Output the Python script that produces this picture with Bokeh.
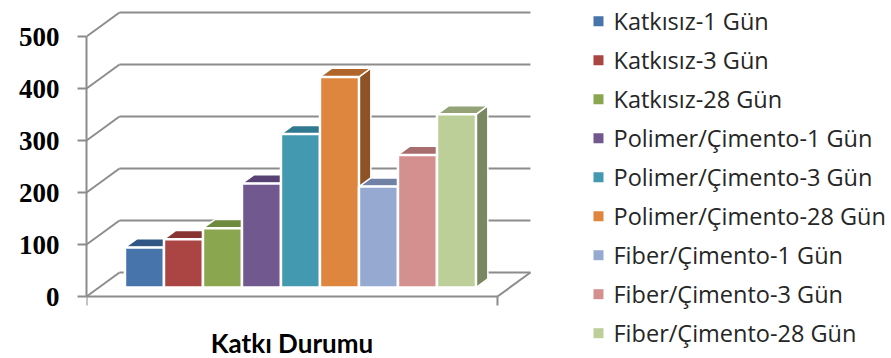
from bokeh.plotting import figure
from bokeh.models import Range1d, LinearAxis, FixedTicker, ColumnDataSource
from bokeh.core.properties import value
from bokeh.embed import file_html
from bokeh.resources import INLINE

# ---- data -------------------------------------------------------------
series = [
    "Katkısız-1 Gün", "Katkısız-3 Gün", "Katkısız-28 Gün",
    "Polimer/Çimento-1 Gün", "Polimer/Çimento-3 Gün", "Polimer/Çimento-28 Gün",
    "Fiber/Çimento-1 Gün", "Fiber/Çimento-3 Gün", "Fiber/Çimento-28 Gün",
]
values = [77, 93, 114, 200, 295, 405, 194, 255, 333]
category_title = "Katkı Durumu"
y_ticks = [0, 100, 200, 300, 400, 500]

front_colors = ["#4674ab", "#aa4543", "#8aa64f", "#71588f", "#4299b0",
                "#de863e", "#95a9d1", "#d48f8f", "#bccf99"]
top_colors = ["#2f5684", "#893533", "#6e8a3c", "#584274", "#2f7a8e",
              "#b0652a", "#6f81a4", "#a86e6e", "#93a377"]
side_colors = ["#284a73", "#752d2b", "#5e7633", "#4b3863", "#28697a",
               "#8e5227", "#5f6f8d", "#905e5e", "#7a8862"]

# ---- 3-D oblique projection ------------------------------------------
PX_PER_SLOT = 39.0
PX_PER_UNIT = 0.52
DEPTH_DX = 33.0 / PX_PER_SLOT      # full depth, in slot units
DEPTH_DY = 24.0 / PX_PER_UNIT      # full depth, in value units
X_LEFT, X_RIGHT = -1.169, 9.369    # floor extent (front plane)
Z_FRONT, Z_BACK = 0.375, 0.735     # depth of the column faces
GRID = "#8c8c8c"


def proj(x, y, z):
    return x + z * DEPTH_DX, y + z * DEPTH_DY


W, H = 891, 358
LEFT = 86
x0 = X_LEFT
y0 = -(H - 296) / PX_PER_UNIT
p = figure(width=W, height=H, output_backend="svg", toolbar_location=None,
           x_range=Range1d(x0, x0 + (W - LEFT) / PX_PER_SLOT),
           y_range=Range1d(y0, y0 + H / PX_PER_UNIT),
           x_axis_type=None, y_axis_type=None,
           min_border=0, min_border_left=LEFT)
p.outline_line_color = None
p.background_fill_color = "white"
p.border_fill_color = "white"

# value axis
yax = LinearAxis(ticker=FixedTicker(ticks=y_ticks), bounds=(0, 500))
yax.axis_line_color = GRID
yax.axis_line_width = 2
yax.major_tick_line_color = GRID
yax.major_tick_line_width = 2
yax.major_tick_out = 9
yax.major_tick_in = 0
yax.minor_tick_line_color = None
yax.major_label_text_font = "Liberation Serif"
yax.major_label_text_font_style = "bold"
yax.major_label_text_font_size = "27px"
yax.major_label_text_color = "black"
yax.major_label_standoff = 18
p.add_layout(yax, "left")

# side wall and back wall gridlines
gx0, gy0, gx1, gy1 = [], [], [], []
for v in y_ticks:
    a = proj(X_LEFT, v, 0)
    b = proj(X_LEFT, v, 1)
    c = proj(X_RIGHT, v, 1)
    for s, e in ((a, b), (b, c)):
        gx0.append(s[0]); gy0.append(s[1]); gx1.append(e[0]); gy1.append(e[1])
p.segment(gx0, gy0, gx1, gy1, line_color=GRID, line_width=2)

# floor front and right edges, category ticks
tick_len = 9 / PX_PER_UNIT
fa, fb, fc = proj(X_RIGHT, 0, 0), proj(X_RIGHT, 0, 1), proj(X_LEFT, 0, 0)
p.segment([fc[0], fa[0], fc[0], fa[0]], [fc[1], fa[1], 0, 0],
          [fa[0], fb[0], fc[0], fa[0]], [fa[1], fb[1], -tick_len, -tick_len],
          line_color=GRID, line_width=2)

# columns: side faces, top faces, then front faces
n = len(values)
side_xs, side_ys, top_xs, top_ys = [], [], [], []
for i, v in enumerate(values):
    xl, xr = i - 0.5, i + 0.5
    pts = [proj(xr, 0, Z_FRONT), proj(xr, v, Z_FRONT), proj(xr, v, Z_BACK), proj(xr, 0, Z_BACK)]
    side_xs.append([q[0] for q in pts]); side_ys.append([q[1] for q in pts])
    pts = [proj(xl, v, Z_FRONT), proj(xr, v, Z_FRONT), proj(xr, v, Z_BACK), proj(xl, v, Z_BACK)]
    top_xs.append([q[0] for q in pts]); top_ys.append([q[1] for q in pts])

p.patches(side_xs, side_ys, fill_color=side_colors, line_color="white", line_width=1.5)
p.patches(top_xs, top_ys, fill_color=top_colors, line_color="white", line_width=1.5)

front = ColumnDataSource(dict(
    x=[i + Z_FRONT * DEPTH_DX for i in range(n)],
    bottom=[Z_FRONT * DEPTH_DY] * n,
    top=[v + Z_FRONT * DEPTH_DY for v in values],
    color=front_colors,
))
p.vbar(x="x", bottom="bottom", top="top", width=1.0, source=front,
       fill_color="color", line_color="white", line_width=2.5)

# category title
p.text(x=[(X_LEFT + X_RIGHT) / 2], y=[-(342.5 - 296) / PX_PER_UNIT], text=[category_title],
       text_font=value("Lato"), text_font_style="bold", text_font_size="26px",
       text_align="center", text_baseline="middle", text_color="black")

# legend
row_step = 39 / PX_PER_UNIT
row0 = (296 - 20.7) / PX_PER_UNIT
leg_y = [row0 - k * row_step for k in range(n)]
key_x = (598 - 131.6) / PX_PER_SLOT
txt_x = (613 - 131.6) / PX_PER_SLOT
p.scatter([key_x] * n, leg_y, marker="square", size=10, fill_color=front_colors,
          line_color=None)
p.text([txt_x] * n, leg_y, text=series, text_font=value("Open Sans"), text_font_size="23.5px",
       text_align="left", text_baseline="middle", text_color="#262626")

open("out.html", "w").write(file_html(p, INLINE))
